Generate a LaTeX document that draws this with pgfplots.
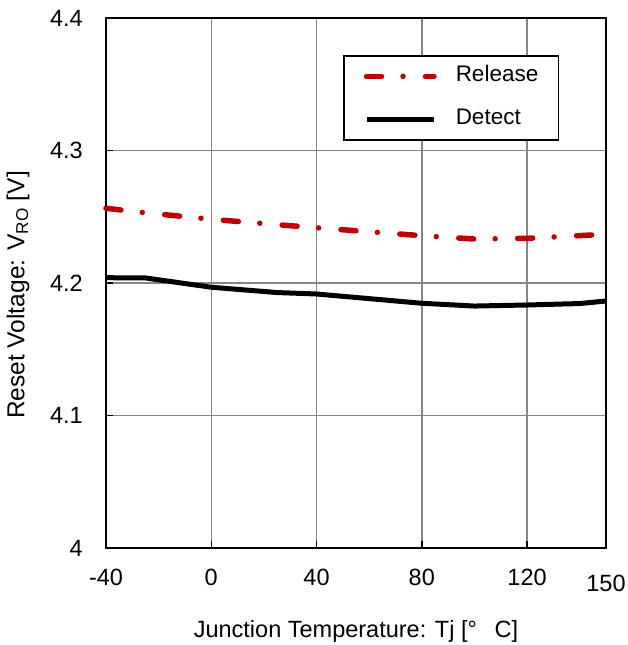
\documentclass[border=0pt]{standalone}
\usepackage{pgfplots}
\pgfplotsset{compat=1.18}
\usepackage{fontspec}
\setmainfont{Liberation Sans}
\definecolor{relred}{HTML}{C00000}
\begin{document}
\fontsize{23.5}{28}\selectfont
\begin{tikzpicture}
\begin{axis}[
    scale only axis,
    width=500pt, height=530pt,
    xmin=-40, xmax=150,
    ymin=4, ymax=4.4,
    xtick={-40,0,40,80,120},
    ytick={4,4.1,4.2,4.3,4.4},
    yticklabels={4,4.1,4.2,4.3,4.4},
    extra x ticks={150},
    extra x tick style={grid=none, tick label style={yshift=-6pt}},
    grid=major,
    grid style={gray!95, line width=1.5pt},
    axis line style={black, line width=2pt},
    tick style={black, line width=1.5pt},
    major tick length=7pt,
    tick align=inside,
    xtick pos=bottom, ytick pos=left,
    /pgf/number format/assume math mode=true,
    tick label style={font=\fontsize{23.5}{28}\selectfont, inner sep=0pt},
    xticklabel style={anchor=north, yshift=-21pt},
    yticklabel style={anchor=east, xshift=-23pt},
    xlabel={Junction Temperature: Tj [°\hspace{0.75em}C]},
    ylabel={Reset Voltage: V\textsubscript{RO} [V]},
    label style={font=\fontsize{23.5}{28}\selectfont},
    xlabel style={at={(rel axis cs:0.5,0)}, anchor=center, yshift=-83pt},
    ylabel style={at={(rel axis cs:0,0.5)}, anchor=center, yshift=88pt, xshift=-12pt,
        font=\fontsize{24.5}{28}\selectfont},
    legend style={at={(0.474,0.93)}, anchor=north west, draw=black, line width=1.5pt,
        font=\fontsize{22.5}{27}\selectfont, inner xsep=20pt, inner ysep=10pt,
        nodes={inner sep=0pt, text height=16pt, text depth=5pt},
        row sep=22pt, column sep=19pt, cells={anchor=west}},
    legend image code/.code={\draw[#1] (2.5pt,0pt) -- (70pt,0pt);},
    clip=false,
]
\addplot[relred, line width=5.5pt, line cap=round,
    dash pattern=on 15pt off 21.5pt on 0pt off 22.5pt]
    coordinates {(-40,4.2564)(-25,4.2530)(0,4.2481)(25,4.2440)(40,4.2417)(80,4.2357)(100,4.2332)(120,4.2337)(150,4.2368)};
\addlegendentry{Release}
\addplot[black, line width=5pt]
    coordinates {(-40,4.2040)(-25,4.2038)(0,4.1968)(25,4.1928)(40,4.1917)(80,4.1847)(100,4.1826)(120,4.1834)(140,4.1845)(150,4.1864)};
\addlegendentry{Detect}
\coordinate (bl) at (rel axis cs:0,0);
\coordinate (tr) at (rel axis cs:1,1);
\end{axis}
\pgfresetboundingbox
\path[use as bounding box] ([xshift=-106pt,yshift=-97pt]bl) rectangle ([xshift=21pt,yshift=18pt]tr);
\end{tikzpicture}
\end{document}
